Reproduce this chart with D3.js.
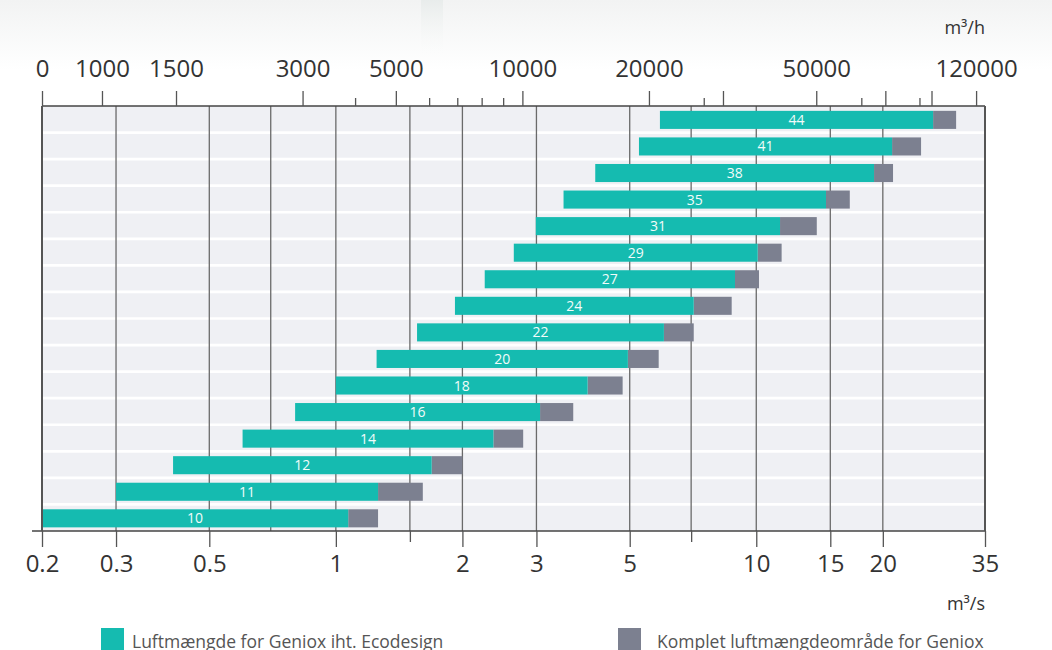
<!DOCTYPE html>
<html>
<head>
<meta charset="utf-8">
<script src="https://cdn.jsdelivr.net/npm/d3@7"></script>
<style>
	body { margin: 0; background: #ffffff; }
	svg { display: block; font-family: "Open Sans", sans-serif; }
</style>
</head>
<body>
<div id="vis-container"></div>
<script>
// unit sizes, bottom to top
var sizes = ["10", "11", "12", "14", "16", "18", "20", "22", "24", "27", "29", "31", "35", "38", "41", "44"];
// airflow in m3/s
var ecoStart = [0.2, 0.30, 0.41, 0.60, 0.80, 1.0, 1.25, 1.56, 1.92, 2.26, 2.65, 2.99, 3.48, 4.14, 5.26, 5.9];
var ecoEnd = [1.07, 1.26, 1.69, 2.37, 3.06, 3.97, 4.95, 6.03, 7.1, 8.9, 10.08, 11.39, 14.65, 19.06, 21.04, 26.34];
var fullEnd = [1.26, 1.61, 2.0, 2.79, 3.67, 4.81, 5.86, 7.1, 8.74, 10.15, 11.49, 13.93, 16.69, 21.15, 24.66, 29.88];

// bottom axis (m3/s)
var bottomLabels = [0.2, 0.3, 0.5, 1, 2, 3, 5, 10, 15, 20, 35];
var bottomMinor = [1.5, 7];
var gridValues = [0.3, 0.5, 0.7, 1, 1.5, 2, 3, 5, 7, 10, 15, 20];

// top axis (m3/h), first label sits on the left edge
var topValues = [720, 1000, 1500, 3000, 5000, 10000, 20000, 50000, 120000];
var topLabels = ["0", "1000", "1500", "3000", "5000", "10000", "20000", "50000", "120000"];
var topTall = [30000, 73000, 94000];
var topShort = [4000, 6000, 7000, 8000, 9000, 27000, 64000, 88000];

var legendItems = ["Luftmængde for Geniox iht. Ecodesign", "Komplet luftmængdeområde for Geniox"];

var width = 1052;
var height = 650;
// plot area
var plotLeft = 42, plotRight = 985, plotTop = 106, plotBottom = 531;
var teal = "#15bbb0";
var grey = "#7c8090";

var svg = d3.select("#vis-container")
	.append("svg")
	.attr("width", width)
	.attr("height", height);

// faint gradient at the top of the page
var defs = svg.append("defs");
var grad = defs.append("linearGradient").attr("id", "topfade").attr("x1", 0).attr("y1", 0).attr("x2", 0).attr("y2", 1);
grad.append("stop").attr("offset", "0%").attr("stop-color", "#f2f3f3");
grad.append("stop").attr("offset", "100%").attr("stop-color", "#ffffff");
svg.append("rect").attr("x", 0).attr("y", 0).attr("width", width).attr("height", 70).attr("fill", "url(#topfade)");
var strip = defs.append("linearGradient").attr("id", "strip").attr("x1", 0).attr("y1", 0).attr("x2", 0).attr("y2", 1);
strip.append("stop").attr("offset", "0%").attr("stop-color", "#e8eceb");
strip.append("stop").attr("offset", "100%").attr("stop-color", "#ffffff").attr("stop-opacity", 0);
svg.append("rect").attr("x", 421).attr("y", 0).attr("width", 22).attr("height", 65).attr("fill", "url(#strip)");

var x = d3.scaleLog().domain([0.2, 35]).range([plotLeft, plotRight]);
var xTop = d3.scaleLog().domain([0.2 * 3600, 35 * 3600]).range([plotLeft, plotRight]);
var y = d3.scaleBand().domain(sizes.slice().reverse()).range([plotTop, plotBottom]);

// plot background and row separators
svg.append("rect")
	.attr("x", plotLeft).attr("y", plotTop)
	.attr("width", plotRight - plotLeft).attr("height", plotBottom - plotTop)
	.attr("fill", "#eff0f4");

svg.selectAll(".sep")
	.data(sizes.slice(1))
	.enter().append("line")
	.attr("x1", plotLeft).attr("x2", plotRight)
	.attr("y1", function(d) { return y(d) + y.bandwidth(); })
	.attr("y2", function(d) { return y(d) + y.bandwidth(); })
	.attr("stroke", "#ffffff")
	.attr("stroke-width", 2.7);

// vertical grid
svg.selectAll(".grid")
	.data(gridValues)
	.enter().append("line")
	.attr("x1", function(d) { return x(d); })
	.attr("x2", function(d) { return x(d); })
	.attr("y1", plotTop).attr("y2", plotBottom)
	.attr("stroke", "#6a6a6a")
	.attr("stroke-width", 1.3);

// bars
var barH = y.bandwidth() * 0.68;
var rows = svg.selectAll(".row")
	.data(sizes)
	.enter().append("g")
	.attr("transform", function(d) { return "translate(0," + (y(d) + (y.bandwidth() - barH) / 2 + 0.6) + ")"; });

rows.append("rect")
	.attr("x", function(d, i) { return x(ecoEnd[i]); })
	.attr("width", function(d, i) { return x(fullEnd[i]) - x(ecoEnd[i]); })
	.attr("height", barH)
	.attr("fill", grey);

rows.append("rect")
	.attr("x", function(d, i) { return x(ecoStart[i]); })
	.attr("width", function(d, i) { return x(ecoEnd[i]) - x(ecoStart[i]); })
	.attr("height", barH)
	.attr("fill", teal);

rows.append("text")
	.attr("x", function(d, i) { return (x(ecoStart[i]) + x(ecoEnd[i])) / 2; })
	.attr("y", barH / 2)
	.attr("dy", "0.36em")
	.attr("text-anchor", "middle")
	.attr("font-size", 14)
	.attr("fill", "#f2fbfa")
	.text(function(d) { return d; });

// frame
svg.append("line").attr("x1", plotLeft).attr("x2", plotRight).attr("y1", plotTop).attr("y2", plotTop)
	.attr("stroke", "#444").attr("stroke-width", 1.5);
svg.append("line").attr("x1", 32).attr("x2", plotRight).attr("y1", plotBottom).attr("y2", plotBottom)
	.attr("stroke", "#444").attr("stroke-width", 1.5);
svg.append("line").attr("x1", plotLeft).attr("x2", plotLeft).attr("y1", plotTop).attr("y2", plotBottom)
	.attr("stroke", "#555").attr("stroke-width", 2);
svg.append("line").attr("x1", plotRight).attr("x2", plotRight).attr("y1", plotTop).attr("y2", plotBottom)
	.attr("stroke", "#555").attr("stroke-width", 2);

// bottom axis
var bottomAxis = svg.append("g")
	.attr("transform", "translate(0," + plotBottom + ")")
	.call(d3.axisBottom(x).tickValues(bottomLabels).tickSize(16).tickPadding(8)
		.tickFormat(function(d) { return String(d); }));
bottomAxis.select(".domain").remove();
bottomAxis.selectAll(".tick line").attr("stroke", "#555").attr("stroke-width", 1.3);
bottomAxis.selectAll("text").attr("font-size", 24).attr("font-family", "Open Sans").attr("fill", "#333");

svg.append("g")
	.attr("transform", "translate(0," + plotBottom + ")")
	.call(d3.axisBottom(x).tickValues(bottomMinor).tickSize(11).tickFormat(""))
	.call(function(g) { g.select(".domain").remove(); })
	.selectAll(".tick line").attr("stroke", "#555").attr("stroke-width", 1.3);

// top axis
var topAxis = svg.append("g")
	.attr("transform", "translate(0," + plotTop + ")")
	.call(d3.axisTop(xTop).tickValues(topValues).tickSize(15).tickPadding(14)
		.tickFormat(function(d, i) { return topLabels[i]; }));
topAxis.select(".domain").remove();
topAxis.selectAll(".tick line").attr("stroke", "#555").attr("stroke-width", 1.3);
topAxis.selectAll("text").attr("font-size", 24).attr("font-family", "Open Sans").attr("fill", "#333");

svg.append("g")
	.attr("transform", "translate(0," + plotTop + ")")
	.call(d3.axisTop(xTop).tickValues(topTall).tickSize(15).tickFormat(""))
	.call(function(g) { g.select(".domain").remove(); })
	.selectAll(".tick line").attr("stroke", "#555").attr("stroke-width", 1.3);

svg.append("g")
	.attr("transform", "translate(0," + plotTop + ")")
	.call(d3.axisTop(xTop).tickValues(topShort).tickSize(8).tickFormat(""))
	.call(function(g) { g.select(".domain").remove(); })
	.selectAll(".tick line").attr("stroke", "#555").attr("stroke-width", 1.3);

// unit labels
svg.append("text").attr("x", plotRight).attr("y", 34).attr("text-anchor", "end")
	.attr("font-size", 18).attr("fill", "#333").text("m³/h");
svg.append("text").attr("x", plotRight).attr("y", 610).attr("text-anchor", "end")
	.attr("font-size", 18).attr("fill", "#333").text("m³/s");

// legend
var legendX = [101, 618];
var legendColors = [teal, grey];
var legend = svg.selectAll(".legend")
	.data(legendItems)
	.enter().append("g")
	.attr("transform", function(d, i) { return "translate(" + legendX[i] + ",628)"; });
legend.append("rect").attr("width", 23).attr("height", 23)
	.attr("fill", function(d, i) { return legendColors[i]; });
legend.append("text").attr("x", function(d, i) { return i === 0 ? 31 : 39; }).attr("y", 19.5)
	.attr("font-size", 17.5).attr("fill", "#555")
	.text(function(d) { return d; });
</script>
</body>
</html>
